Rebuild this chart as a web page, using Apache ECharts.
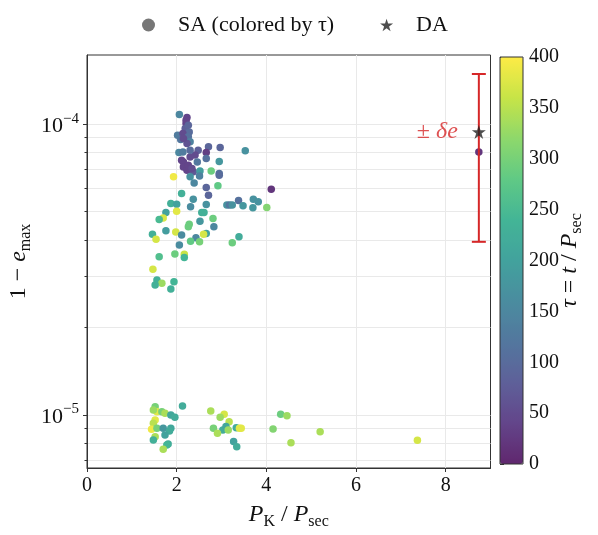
<!DOCTYPE html>
<html><head><meta charset="utf-8">
<script src="https://cdn.jsdelivr.net/npm/echarts@6/dist/echarts.min.js"></script>
<style>html,body{margin:0;padding:0;background:#fff}#c{width:598px;height:535px}</style>
</head><body><div id="c"></div>
<script>
// ---- data ----
const saX = [
 2.06,2.23,2.21,2.19,2.28,2.02,2.14,2.26,2.09,2.30,2.23,2.71,2.97,3.53,2.66,2.05,2.14,2.48,2.41,2.30,
 2.11,2.15,2.46,2.66,2.95,2.15,2.23,2.37,2.52,2.77,2.95,2.95,1.93,2.30,2.51,2.39,2.92,2.66,2.11,2.71,
 2.37,4.11,3.38,3.71,2.21,2.26,2.15,2.30,2.26,2.34,
 1.87,2.00,2.31,2.66,3.12,3.18,3.48,3.70,3.82,1.76,2.00,2.56,2.61,2.81,1.70,1.61,2.52,2.28,2.26,2.83,
 1.76,1.98,2.11,1.46,2.66,2.60,2.43,1.54,2.31,2.51,3.39,3.24,2.06,1.96,2.17,2.17,1.61,1.47,1.56,1.67,
 1.52,1.94,1.87,4.01,3.24,
 1.52,1.56,1.48,1.67,1.74,1.87,1.96,2.13,1.52,1.48,1.44,1.56,1.70,1.87,1.84,1.74,1.52,1.48,1.81,1.78,
 1.70,2.76,3.06,2.97,3.17,2.82,3.03,3.10,2.91,3.15,3.33,3.40,3.44,3.27,3.34,4.15,4.32,4.46,4.55,5.20,
 7.37,8.74
];
const saY = [
 1.080e-4,1.054e-4,1.006e-4,9.67e-5,9.41e-5,9.17e-5,9.29e-5,9.05e-5,8.86e-5,8.70e-5,8.59e-5,8.36e-5,8.32e-5,8.10e-5,7.99e-5,7.99e-5,8.03e-5,8.14e-5,7.83e-5,7.72e-5,
 7.52e-5,7.42e-5,7.42e-5,7.62e-5,7.44e-5,7.13e-5,6.95e-5,6.86e-5,6.90e-5,6.90e-5,6.77e-5,6.68e-5,6.59e-5,6.59e-5,6.63e-5,6.28e-5,6.14e-5,6.06e-5,5.78e-5,5.70e-5,
 5.52e-5,5.97e-5,5.46e-5,5.52e-5,1.032e-4,9.92e-5,8.93e-5,8.14e-5,7.23e-5,7.04e-5,
 5.34e-5,5.31e-5,5.20e-5,5.30e-5,5.27e-5,5.27e-5,5.24e-5,5.16e-5,5.41e-5,4.97e-5,5.02e-5,4.97e-5,4.97e-5,4.74e-5,4.76e-5,4.70e-5,4.64e-5,4.53e-5,4.44e-5,4.44e-5,
 4.30e-5,4.26e-5,4.16e-5,4.18e-5,4.21e-5,4.18e-5,4.07e-5,4.02e-5,3.96e-5,3.94e-5,4.10e-5,3.91e-5,3.84e-5,3.58e-5,3.57e-5,3.48e-5,3.50e-5,3.17e-5,2.91e-5,2.84e-5,
 2.80e-5,2.87e-5,2.71e-5,5.17e-5,5.27e-5,
 1.068e-5,1.026e-5,1.040e-5,1.026e-5,1.013e-5,1.000e-5,9.82e-6,1.074e-5,9.61e-6,9.37e-6,8.93e-6,9.00e-6,9.00e-6,9.00e-6,8.81e-6,8.54e-6,8.42e-6,8.20e-6,7.95e-6,7.88e-6,
 7.62e-6,1.032e-5,1.006e-5,9.82e-6,9.48e-6,9.00e-6,8.88e-6,9.12e-6,8.65e-6,8.88e-6,9.04e-6,9.00e-6,9.00e-6,8.10e-6,7.78e-6,8.95e-6,1.006e-5,9.94e-6,8.03e-6,8.76e-6,
 8.18e-6,8.03e-5
];
const saTau = [
 150,40,40,80,100,130,50,110,120,140,60,90,90,170,30,150,130,80,50,50,
 40,40,120,110,180,40,40,70,190,290,110,100,390,170,140,150,280,90,230,90,
 170,20,110,170,40,90,50,100,40,50,
 230,200,160,170,170,120,180,180,170,200,380,230,230,290,370,250,180,290,290,150,
 190,370,160,230,200,370,150,370,280,300,220,290,160,290,360,240,260,370,230,330,
 230,240,230,310,170,
 300,380,330,300,340,210,220,220,380,350,390,300,180,210,220,200,340,230,220,240,
 340,340,370,330,350,300,220,210,340,330,220,380,380,200,220,310,290,330,340,340,
 370,20
];
const daX = [8.74];
const daY = [9.41e-5];
const daErr = [5.47e-5];
const xTicks = [0, 2, 4, 6, 8];
const yMajorTicks = [1e-5, 1e-4];
const yMinorTicks = [7e-6, 8e-6, 9e-6, 2e-5, 3e-5, 4e-5, 5e-5, 6e-5, 7e-5, 8e-5, 9e-5];
const tauTicks = [0, 50, 100, 150, 200, 250, 300, 350, 400];
const xRange = [0, 9.0];
const yRange = [6.57e-6, 1.73e-4];
const tauRange = [0, 400];

// viridis blended with white at alpha 0.85
const viridis = ['#60276e','#63458a','#5e6099','#53779e','#4a8c9f','#42a29d','#43b596','#60c985','#8ed86b','#c7e447','#fdeb46'];
const FONT = 'Liberation Serif';
const star = 'path://M50,0 L61.2,34.5 L97.6,34.5 L68.2,55.9 L79.4,90.5 L50,69.1 L20.6,90.5 L31.8,55.9 L2.4,34.5 L38.8,34.5 Z';
const GRID = '#e9e9e9';
const SPINE = '#333';

const chart = echarts.init(document.getElementById('c'), null, {renderer: 'canvas'});
const subRich = {
  n: {fontFamily: FONT, fontSize: 24, color: '#111', lineHeight: 30},
  i: {fontFamily: FONT, fontSize: 24, fontStyle: 'italic', color: '#111', lineHeight: 30},
  s: {fontFamily: FONT, fontSize: 16, color: '#111', lineHeight: 16, verticalAlign: 'bottom'}
};
chart.setOption({
  animation: false,
  backgroundColor: '#fff',
  textStyle: {fontFamily: FONT},
  legend: {
    top: 9, left: 137, itemWidth: 13, itemHeight: 13, itemGap: 46,
    textStyle: {fontFamily: FONT, fontSize: 22, color: '#111', padding: [0, 0, 0, 18]},
    data: [
      {name: 'SA (colored by τ)', icon: 'circle', itemStyle: {color: '#777'}},
      {name: 'DA', icon: star, itemStyle: {color: '#222'}}
    ]
  },
  grid: [
    {left: 87, right: 107.5, top: 55, bottom: 67, show: true, borderColor: SPINE, borderWidth: 1, backgroundColor: 'transparent', outerBoundsMode: 'none', containLabel: false},
    {left: 500, width: 23, top: 57, height: 407, show: true, borderColor: SPINE, borderWidth: 1, backgroundColor: 'transparent', z: 10, outerBoundsMode: 'none', containLabel: false}
  ],
  xAxis: [
    {
      type: 'value', gridIndex: 0, min: xRange[0], max: xRange[1],
      name: '{i|P}{s|K}{n| / }{i|P}{s|sec}', nameLocation: 'middle', nameGap: 32, nameMoveOverlap: false,
      nameTextStyle: {rich: subRich},
      axisLine: {onZero: false, lineStyle: {color: SPINE}},
      axisTick: {customValues: xTicks, length: 4, lineStyle: {color: SPINE}},
      axisLabel: {customValues: xTicks, fontFamily: FONT, fontSize: 20, color: '#111', margin: 8},
      splitLine: {show: true, lineStyle: {color: GRID, width: 1}}
    },
    {type: 'value', gridIndex: 1, min: 0, max: 1, show: false}
  ],
  yAxis: [
    {
      type: 'log', gridIndex: 0, min: yRange[0], max: yRange[1], position: 'left',
      name: '{n|1 − }{i|e}{s|max}', nameLocation: 'middle', nameGap: 53, nameMoveOverlap: false,
      nameTextStyle: {rich: subRich},
      axisLine: {onZero: false, lineStyle: {color: SPINE}},
      axisTick: {customValues: yMajorTicks, length: 4, lineStyle: {color: SPINE}},
      axisLabel: {
        customValues: yMajorTicks, margin: 8,
        formatter: v => '{b|10}{sup|−' + Math.round(-Math.log10(v)) + '}',
        rich: {
          b: {fontFamily: FONT, fontSize: 22, color: '#111', lineHeight: 26, verticalAlign: 'bottom'},
          sup: {fontFamily: FONT, fontSize: 15, color: '#111', lineHeight: 15, verticalAlign: 'top'}
        }
      },
      splitLine: {show: true, lineStyle: {color: GRID, width: 1}}
    },
    {
      type: 'log', gridIndex: 0, min: yRange[0], max: yRange[1], position: 'left',
      axisLine: {show: false, onZero: false},
      axisTick: {customValues: yMinorTicks, length: 2.5, lineStyle: {color: SPINE}},
      axisLabel: {show: false},
      splitLine: {show: true, lineStyle: {color: GRID, width: 1}}
    },
    {
      type: 'value', gridIndex: 1, min: tauRange[0], max: tauRange[1], position: 'right',
      name: '{i|τ}{n| = }{i|t}{n| / }{i|P}{s|sec}', nameLocation: 'middle', nameGap: 32, nameMoveOverlap: false,
      nameTextStyle: {rich: subRich},
      axisLine: {show: false},
      axisTick: {customValues: tauTicks, length: 4, lineStyle: {color: SPINE}},
      axisLabel: {customValues: tauTicks, fontFamily: FONT, fontSize: 20, color: '#111', margin: 6},
      splitLine: {show: false}
    }
  ],
  visualMap: {
    type: 'continuous', min: tauRange[0], max: tauRange[1], dimension: 2, seriesIndex: 0,
    calculable: false, showLabel: false, text: null, orient: 'vertical',
    left: 500, top: 57, itemWidth: 23, itemHeight: 407, padding: 0,
    inRange: {color: viridis}
  },
  series: [
    {
      name: 'SA (colored by τ)', type: 'scatter', xAxisIndex: 0, yAxisIndex: 0,
      symbol: 'circle', symbolSize: 7.5, z: 2,
      itemStyle: {color: '#777', opacity: 1},
      data: saX.map((x, i) => [x, saY[i], saTau[i]])
    },
    {
      name: 'errbar', type: 'custom', xAxisIndex: 0, yAxisIndex: 0, z: 3,
      data: daX.map((x, i) => [x, daY[i] - daErr[i], daY[i] + daErr[i]]),
      renderItem: (params, api) => {
        const lo = api.coord([api.value(0), api.value(1)]);
        const hi = api.coord([api.value(0), api.value(2)]);
        const w = 7, st = {stroke: '#d62728', lineWidth: 2};
        return {type: 'group', children: [
          {type: 'line', shape: {x1: lo[0], y1: lo[1], x2: hi[0], y2: hi[1]}, style: st},
          {type: 'line', shape: {x1: lo[0] - w, y1: lo[1], x2: lo[0] + w, y2: lo[1]}, style: st},
          {type: 'line', shape: {x1: hi[0] - w, y1: hi[1], x2: hi[0] + w, y2: hi[1]}, style: st}
        ]};
      }
    },
    {
      name: 'DA', type: 'scatter', xAxisIndex: 0, yAxisIndex: 0, z: 4,
      symbol: star, symbolSize: 14, itemStyle: {color: '#222'},
      label: {
        show: true, position: 'left', distance: 14,
        formatter: '{n|± }{i|δe}',
        rich: {
          n: {fontFamily: FONT, fontSize: 24, color: '#d62728'},
          i: {fontFamily: FONT, fontSize: 24, fontStyle: 'italic', color: '#d62728'}
        }
      },
      data: daX.map((x, i) => [x, daY[i]])
    }
  ]
});
</script></body></html>
